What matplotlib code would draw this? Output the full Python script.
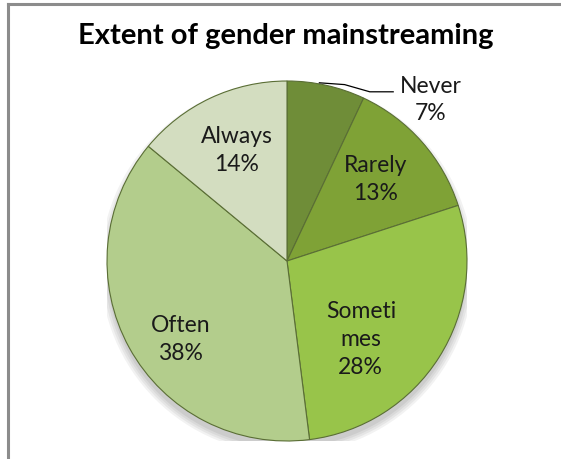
import matplotlib
matplotlib.use("Agg")
import matplotlib.pyplot as plt
import matplotlib.patches as mpatches
import numpy as np

categories = ["Never", "Rarely", "Sometimes", "Often", "Always"]
values = [7, 13, 28, 38, 14]
label_texts = ["Never\n7%", "Rarely\n13%", "Someti\nmes\n28%", "Often\n38%", "Always\n14%"]
colors = ["#6f8d38", "#7fa236", "#98c44a", "#b3cd8c", "#d3ddc0"]
title = "Extent of gender mainstreaming"

plt.rcParams['font.family'] = ['Lato', 'DejaVu Sans']

fig = plt.figure(figsize=(5.61, 4.60), dpi=100)
fig.patch.set_facecolor("white")

# frame lines (chart border, partially cropped)
fig.add_artist(plt.Line2D([8/561, 1.0], [1-5/460, 1-5/460], color="#8c8c8c", lw=2.2))
fig.add_artist(plt.Line2D([8/561, 8/561], [0, 1-5/460], color="#8c8c8c", lw=2.2))

fig.text(286/561, 1-36/460, title, ha="center", va="center", fontsize=21, fontweight="bold", color="black")

ax = fig.add_axes([107/561, 18/460, 360/561, 360/460])

# soft shadow
for i, a in enumerate([0.05, 0.05, 0.05, 0.06]):
    ax.add_patch(mpatches.Circle((0.0, -0.035), 1.0 + 0.012 * (3 - i), color="black", alpha=a, lw=0, zorder=0))

wedges, _ = ax.pie(values, colors=colors, startangle=90, counterclock=False, radius=1.0,
                   wedgeprops=dict(edgecolor="#5a6e35", linewidth=0.8), frame=True)
ax.set_xlim(-1.0, 1.0)
ax.set_ylim(-1.0, 1.0)
ax.set_aspect("equal")
ax.axis("off")

label_pos = [(0.80, 0.90), (0.49, 0.46), (0.41, -0.43), (-0.59, -0.43), (-0.28, 0.62)]
for txt, (x, y) in zip(label_texts, label_pos):
    ax.text(x, y, txt, ha="center", va="center", fontsize=16.5, color="#1a1a1a", linespacing=1.4)

# leader line for Never
ax.plot([0.18, 0.32, 0.46, 0.59], [0.99, 0.98, 0.94, 0.94], color="black", lw=0.9, clip_on=False)

fig.savefig("out.png", dpi=100)
